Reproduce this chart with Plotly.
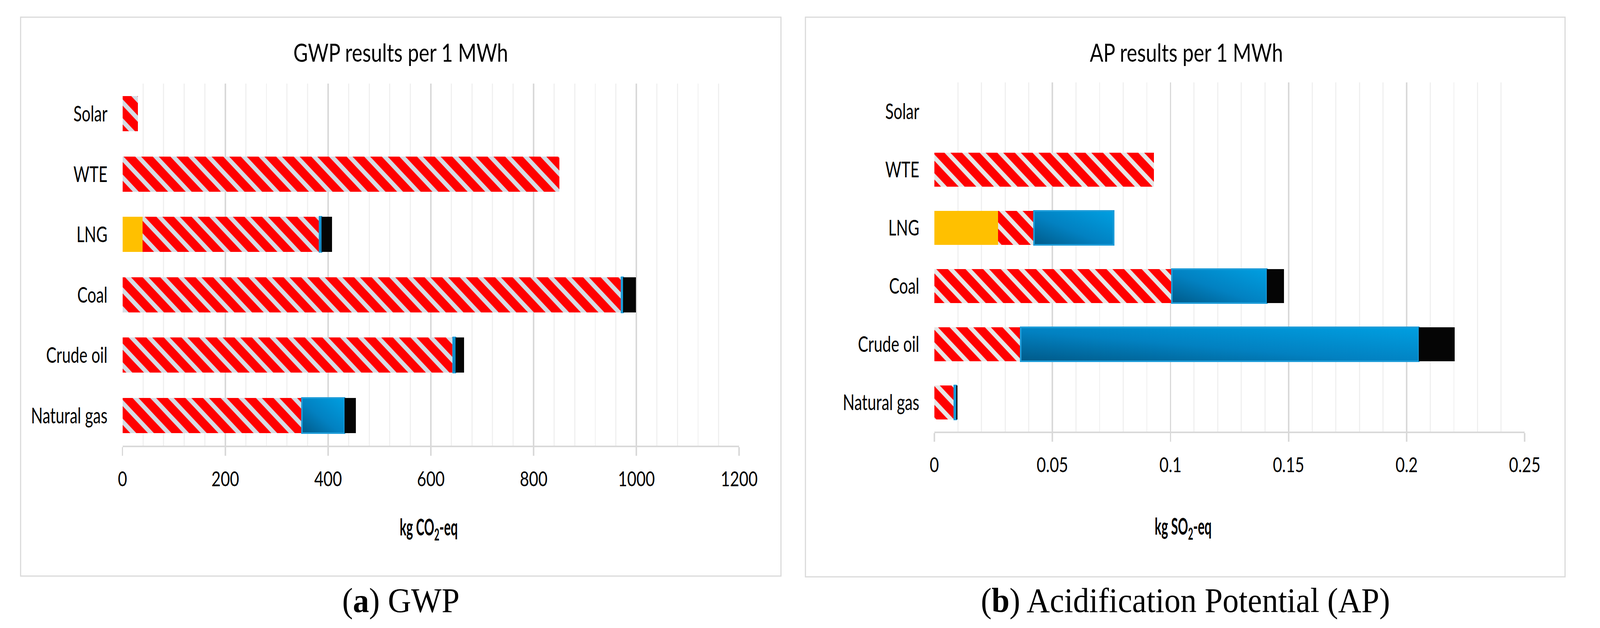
import plotly.graph_objects as go

W, H = 4367, 1608

categories = ["Natural gas", "Crude oil", "Coal", "LNG", "WTE", "Solar"]

# GWP (kg CO2-eq per 1 MWh)
gwp_yellow = [0, 0, 0, 39, 0, 0]
gwp_red = [349, 643, 971, 344, 850, 30]
gwp_blue = [83, 5, 3, 4, 0, 0]
gwp_black = [22, 17, 25, 21, 0, 0]

# AP (kg SO2-eq per 1 MWh)
ap_yellow = [0, 0, 0, 0.027, 0, 0]
ap_red = [0.0084, 0.0366, 0.1006, 0.0152, 0.093, 0]
ap_blue = [0.0009, 0.1685, 0.0402, 0.0337, 0, 0]
ap_black = [0.0005, 0.0152, 0.0072, 0, 0, 0]

gwp_ticks = [0, 200, 400, 600, 800, 1000, 1200]
ap_ticks = [0, 0.05, 0.1, 0.15, 0.2, 0.25]
ap_tick_text = ["0", "0.05", "0.1", "0.15", "0.2", "0.25"]

SANS = "Lato, Liberation Sans, sans-serif"
SERIF = "Liberation Serif, DejaVu Serif, serif"

FS_TITLE, FS_CAT, FS_TICK, FS_AXT, FS_CAP = 64, 57, 53, 60, 88
CONDENSE = {FS_TITLE: 0.85, FS_CAT: 0.74, FS_TICK: 0.82, FS_AXT: 0.57}

BLUE = "rgb(2, 129, 193)"


def nz(vals):
    return [v if v else None for v in vals]


def px_x(p):
    return p / W


def px_y(p):
    return 1 - p / H


fig = go.Figure()


def add_series(xa, ya, yellow, red, blue, black, stripe):
    fig.add_trace(go.Bar(orientation="h", y=categories, x=nz(yellow), xaxis=xa, yaxis=ya,
                         marker=dict(color="#FFC000", line=dict(width=0)), showlegend=False))
    fig.add_trace(go.Bar(orientation="h", y=categories, x=nz(red), xaxis=xa, yaxis=ya,
                         marker=dict(color="#FF0000", line=dict(width=0),
                                     pattern=dict(shape="\\", fgcolor=stripe, fgopacity=1,
                                                  size=34, solidity=0.34, fillmode="overlay")),
                         showlegend=False))
    fig.add_trace(go.Bar(orientation="h", y=categories, x=nz(blue), xaxis=xa, yaxis=ya,
                         marker=dict(color=BLUE, line=dict(width=4, color="#1E9CD8")),
                         showlegend=False))
    fig.add_trace(go.Bar(orientation="h", y=categories, x=nz(black), xaxis=xa, yaxis=ya,
                         marker=dict(color="#050505", line=dict(width=0)), showlegend=False))


add_series("x", "y", gwp_yellow, gwp_red, gwp_blue, gwp_black, "#D6DCE4")
add_series("x2", "y2", ap_yellow, ap_red, ap_blue, ap_black, "#E7E6E6")

xcommon = dict(
    showline=True, linecolor="#D9D9D9", linewidth=4,
    showgrid=True, gridcolor="#D9D9D9", gridwidth=4, zeroline=False,
    ticks="outside", ticklen=22, tickwidth=4, tickcolor="#D9D9D9",
    tickfont=dict(family=SANS, size=FS_TICK, color="#000000"),
    ticklabelstandoff=14,
)
ycommon = dict(
    type="category", categoryorder="array", categoryarray=categories,
    showgrid=False, zeroline=False, showline=False, ticks="",
    tickfont=dict(family=SANS, size=FS_CAT, color="#000000"),
    ticklabelstandoff=40, fixedrange=True,
)

fig.update_layout(
    width=W, height=H, autosize=False,
    margin=dict(l=0, r=0, t=0, b=0),
    paper_bgcolor="white", plot_bgcolor="white",
    barmode="stack", bargap=0.42,
    xaxis=dict(domain=[px_x(325), px_x(2038)], range=[0, 1200], tickvals=gwp_ticks,
               anchor="y",
               minor=dict(dtick=40, tick0=0, showgrid=True, gridcolor="#F0F0F0", gridwidth=3, ticks=""),
               **xcommon),
    yaxis=dict(domain=[px_y(1141), px_y(214)], anchor="x", **ycommon),
    xaxis2=dict(domain=[px_x(2580), px_x(4220)], range=[0, 0.25], tickvals=ap_ticks,
                ticktext=ap_tick_text, anchor="y2",
                minor=dict(dtick=0.01, tick0=0, showgrid=True, gridcolor="#F0F0F0", gridwidth=3, ticks=""),
                **xcommon),
    yaxis2=dict(domain=[px_y(1105), px_y(211)], anchor="x2", **ycommon),
)

# panel frames
fig.add_shape(type="rect", xref="paper", yref="paper",
              x0=px_x(42), x1=px_x(2154), y0=px_y(1475), y1=px_y(44),
              line=dict(color="#D9D9D9", width=3), fillcolor="rgba(0,0,0,0)", layer="below")
fig.add_shape(type="rect", xref="paper", yref="paper",
              x0=px_x(2222), x1=px_x(4332), y0=px_y(1477), y1=px_y(44),
              line=dict(color="#D9D9D9", width=3), fillcolor="rgba(0,0,0,0)", layer="below")

texts = [
    ("GWP results per 1 MWh", 1098, 133, SANS, FS_TITLE),
    ("AP results per 1 MWh", 3280, 133, SANS, FS_TITLE),
    ("<b>kg CO<sub>2</sub>-eq</b>", 1175, 1352, SANS, FS_AXT),
    ("<b>kg SO<sub>2</sub>-eq</b>", 3271, 1350, SANS, FS_AXT),
    ("(<b>a</b>) GWP", 1098, 1537, SERIF, FS_CAP),
    ("(<b>b</b>) Acidification Potential (AP)", 3278, 1537, SERIF, FS_CAP),
]
for t, x, y, fam, sz in texts:
    fig.add_annotation(text=t, xref="paper", yref="paper", x=px_x(x), y=px_y(y),
                       xanchor="center", yanchor="middle", showarrow=False,
                       font=dict(family=fam, size=sz, color="#000000"))

cond_js = "{" + ",".join('"%d":%s' % (k, v) for k, v in CONDENSE.items()) + "}"

post = """
document.documentElement.style.margin='0';
document.documentElement.style.overflow='hidden';
document.body.style.margin='0';
document.body.style.overflow='hidden';
var gd = document.getElementById('{plot_id}');
var sx = window.innerWidth / %d, sy = window.innerHeight / %d;
gd.style.transformOrigin = '0 0';
gd.style.transform = 'scale(' + sx + ',' + sy + ')';
try {
  var F = %s;
  gd.querySelectorAll('text').forEach(function (t) {
    var fs = Math.round(parseFloat(t.style.fontSize || window.getComputedStyle(t).fontSize));
    var k = F[String(fs)];
    if (!k) return;
    var b = t.getBBox();
    var a = t.getAttribute('text-anchor') || 'start';
    var cx = a === 'end' ? b.x + b.width : (a === 'middle' ? b.x + b.width / 2 : b.x);
    var tr = t.getAttribute('transform') || '';
    t.setAttribute('transform', tr + ' translate(' + cx + ',0) scale(' + k + ',1) translate(' + (-cx) + ',0)');
  });
} catch (e) {}
try {
  var NS = 'http://www.w3.org/2000/svg';
  var svg = gd.querySelector('svg.main-svg');
  var defs = svg.querySelector('defs') || svg.insertBefore(document.createElementNS(NS, 'defs'), svg.firstChild);
  var g = document.createElementNS(NS, 'linearGradient');
  g.setAttribute('id', 'blueGrad');
  g.setAttribute('x1', '0'); g.setAttribute('y1', '1');
  g.setAttribute('x2', '1'); g.setAttribute('y2', '0');
  [['0', '#005A89'], ['0.45', '#0281C1'], ['1', '#009FE1']].forEach(function (s) {
    var st = document.createElementNS(NS, 'stop');
    st.setAttribute('offset', s[0]);
    st.setAttribute('stop-color', s[1]);
    g.appendChild(st);
  });
  defs.appendChild(g);
  gd.querySelectorAll('g.point path').forEach(function (p) {
    if (p.style.fill === '%s') { p.style.fill = 'url(#blueGrad)'; }
  });
} catch (e) {}
""" % (W, H, cond_js, BLUE)

fig.write_html("out.html", post_script=post, config={"displayModeBar": False})
